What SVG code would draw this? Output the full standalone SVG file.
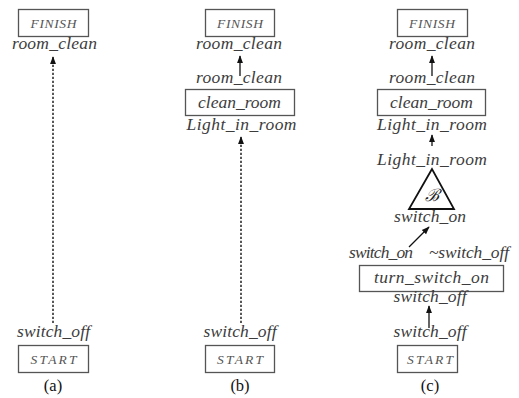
<svg xmlns="http://www.w3.org/2000/svg" width="519" height="398" viewBox="0 0 519 398">
  <style>
    .box { fill: #fff; stroke: #555; stroke-width: 1.3; }
    .lbl { font-family: "Liberation Serif", serif; font-style: italic; font-size: 17.5px; fill: #3c3c3c; text-anchor: middle; }
    .cap { font-family: "Liberation Serif", serif; font-style: italic; font-size: 13.5px; fill: #555; text-anchor: middle; }
    .inbox { font-family: "Liberation Serif", serif; font-style: italic; font-size: 17.5px; fill: #3c3c3c; text-anchor: middle; }
    .tag { font-family: "Liberation Serif", serif; font-size: 16.5px; fill: #111; text-anchor: middle; }
    .solid { stroke: #111; stroke-width: 1.3; fill: none; }
    .dash { stroke: #222; stroke-width: 1.5; fill: none; stroke-dasharray: 2.2 1.8; }
  </style>
  <defs>
    <marker id="head" viewBox="0 0 10 10" refX="9" refY="5" markerWidth="8" markerHeight="8" markerUnits="userSpaceOnUse" orient="auto">
      <path d="M0,1.2 L10,5 L0,8.8 z" fill="#111"/>
    </marker>
  </defs>

  <!-- connectors -->
  <g id="connectors">
    <line class="dash" x1="53" y1="323" x2="53" y2="57" marker-end="url(#head)"/>
    <line class="solid" x1="240" y1="76" x2="240" y2="56" marker-end="url(#head)"/>
    <line class="dash" x1="241" y1="323" x2="241" y2="137" marker-end="url(#head)"/>
    <line class="solid" x1="432" y1="76" x2="432" y2="56" marker-end="url(#head)"/>
    <line class="solid" x1="432" y1="146" x2="432" y2="135" marker-end="url(#head)"/>
    <line class="solid" x1="409" y1="247" x2="429" y2="227" marker-end="url(#head)"/>
    <line class="solid" x1="429" y1="328" x2="429" y2="306" marker-end="url(#head)"/>
  </g>

  <!-- panel (a) -->
  <g id="a-finish">
    <rect class="box" x="18.5" y="9.5" width="70" height="27"/>
    <text class="cap" x="53.5" y="27.5" textLength="46">FINISH</text>
    <text class="lbl" x="54.5" y="49" textLength="85">room_clean</text>
  </g>
  <g id="a-start">
    <text class="lbl" x="53.5" y="337" textLength="73">switch_off</text>
    <rect class="box" x="18.5" y="345.5" width="70" height="27"/>
    <text class="cap" x="53.5" y="364" textLength="46">START</text>
  </g>
  <text class="tag" x="53" y="391">(a)</text>

  <!-- panel (b) -->
  <g id="b-finish">
    <rect class="box" x="205.5" y="9.5" width="69" height="27"/>
    <text class="cap" x="240" y="27.5" textLength="46">FINISH</text>
    <text class="lbl" x="239" y="49" textLength="86">room_clean</text>
  </g>
  <g id="b-clean-room">
    <text class="lbl" x="239" y="83" textLength="86">room_clean</text>
    <rect class="box" x="185.5" y="89.5" width="109" height="26"/>
    <text class="inbox" x="239.5" y="107.5" textLength="83">clean_room</text>
    <text class="lbl" x="241.5" y="130" textLength="110">Light_in_room</text>
  </g>
  <g id="b-start">
    <text class="lbl" x="240" y="337" textLength="73">switch_off</text>
    <rect class="box" x="205.5" y="345.5" width="69" height="27"/>
    <text class="cap" x="240" y="364" textLength="46">START</text>
  </g>
  <text class="tag" x="240" y="391">(b)</text>

  <!-- panel (c) -->
  <g id="c-finish">
    <rect class="box" x="397.5" y="9.5" width="70" height="27"/>
    <text class="cap" x="432" y="27.5" textLength="46">FINISH</text>
    <text class="lbl" x="432" y="49" textLength="86">room_clean</text>
  </g>
  <g id="c-clean-room">
    <text class="lbl" x="432" y="83" textLength="86">room_clean</text>
    <rect class="box" x="377.5" y="89.5" width="108" height="26"/>
    <text class="inbox" x="431.5" y="107.5" textLength="83">clean_room</text>
    <text class="lbl" x="432" y="130" textLength="110">Light_in_room</text>
  </g>
  <g id="c-behaviour">
    <text class="lbl" x="432" y="165" textLength="110">Light_in_room</text>
    <polygon points="432,169 409,209 454,209" fill="#fff" stroke="#111" stroke-width="1.8"/>
    <text x="432" y="201" font-family="DejaVu Serif" font-style="italic" font-size="17" fill="#222" text-anchor="middle">ℬ</text>
    <text class="lbl" x="430" y="222" textLength="72">switch_on</text>
  </g>
  <g id="c-turn-switch-on">
    <text class="lbl" x="381" y="258" textLength="64">switch_on</text>
    <text class="lbl" x="469" y="258" textLength="80">~switch_off</text>
    <rect class="box" x="359.5" y="265.5" width="144" height="26"/>
    <text class="inbox" x="431.5" y="283" textLength="115">turn_switch_on</text>
    <text class="lbl" x="430" y="302" textLength="73">switch_off</text>
  </g>
  <g id="c-start">
    <text class="lbl" x="430" y="337" textLength="73">switch_off</text>
    <rect class="box" x="397.5" y="345.5" width="60" height="27"/>
    <text class="cap" x="430" y="364" textLength="46">START</text>
  </g>
  <text class="tag" x="430" y="391">(c)</text>
</svg>
